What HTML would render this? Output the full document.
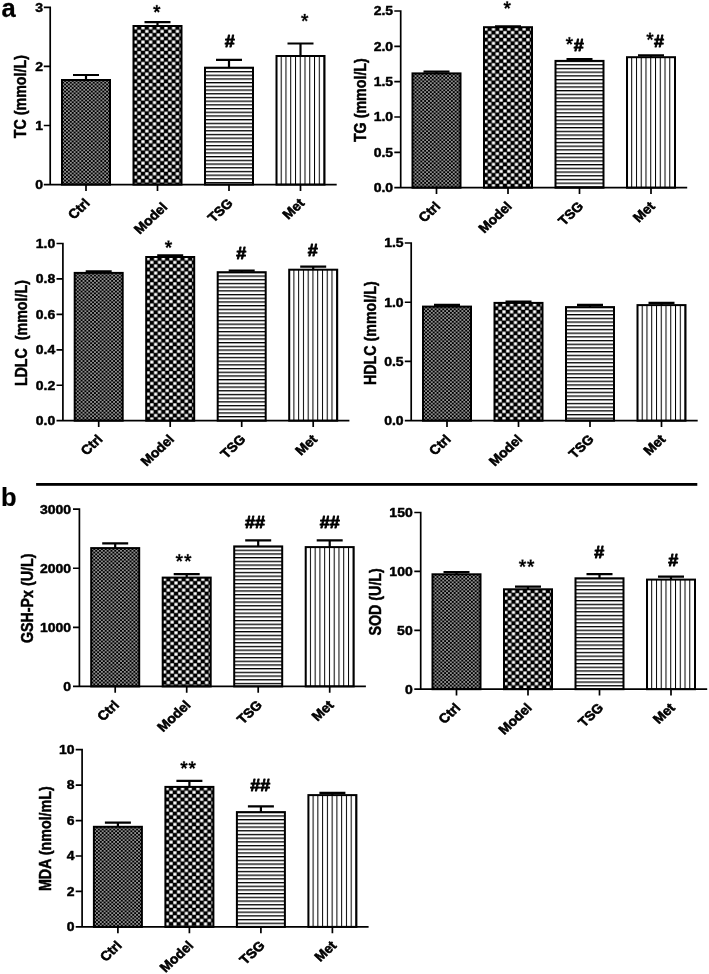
<!DOCTYPE html>
<html><head><meta charset="utf-8"><title>Figure</title>
<style>
html,body{margin:0;padding:0;background:#fff;}
svg{display:block;will-change:transform;filter:grayscale(1);}
text{font-family:"Liberation Sans", sans-serif;font-weight:bold;font-size:14.0px;fill:#000;stroke:#000;stroke-width:0.5px;stroke-linejoin:round;}
</style></head>
<body>
<svg width="709" height="974" viewBox="0 0 709 974">
<rect width="709" height="974" fill="#fff"/>
<defs>
<pattern id="p1" patternUnits="userSpaceOnUse" x="62.2" y="81.8" width="3.82" height="3.56"><rect width="3.82" height="3.56" fill="#000"/><rect x="2.15" y="0.22" width="1.43" height="1.33" fill="#fff"/><rect x="0.24" y="2" width="1.43" height="1.33" fill="#fff"/></pattern>
<pattern id="p2" patternUnits="userSpaceOnUse" x="133.4" y="29.6" width="7.66" height="7.12"><rect width="7.66" height="7.12" fill="#000"/><rect x="4.14" y="0.28" width="3.22" height="2.99" fill="#fff"/><rect x="0.31" y="3.84" width="3.22" height="2.99" fill="#fff"/></pattern>
<pattern id="p3" patternUnits="userSpaceOnUse" x="0" y="70.95" width="10" height="3.7"><rect width="10" height="3.7" fill="#fff"/><rect x="0" y="0" width="10" height="1.3" fill="#000"/></pattern>
<pattern id="p4" patternUnits="userSpaceOnUse" x="280.7" y="0" width="4.76" height="10"><rect width="4.76" height="10" fill="#fff"/><rect x="0" y="0" width="1.0" height="10" fill="#000"/></pattern>
<pattern id="p5" patternUnits="userSpaceOnUse" x="412.7" y="75.2" width="3.82" height="3.56"><rect width="3.82" height="3.56" fill="#000"/><rect x="2.15" y="0.22" width="1.43" height="1.33" fill="#fff"/><rect x="0.24" y="2" width="1.43" height="1.33" fill="#fff"/></pattern>
<pattern id="p6" patternUnits="userSpaceOnUse" x="483.9" y="30.8" width="7.66" height="7.12"><rect width="7.66" height="7.12" fill="#000"/><rect x="4.14" y="0.28" width="3.22" height="2.99" fill="#fff"/><rect x="0.31" y="3.84" width="3.22" height="2.99" fill="#fff"/></pattern>
<pattern id="p7" patternUnits="userSpaceOnUse" x="0" y="64.15" width="10" height="3.7"><rect width="10" height="3.7" fill="#fff"/><rect x="0" y="0" width="10" height="1.3" fill="#000"/></pattern>
<pattern id="p8" patternUnits="userSpaceOnUse" x="631.2" y="0" width="4.76" height="10"><rect width="4.76" height="10" fill="#fff"/><rect x="0" y="0" width="1.0" height="10" fill="#000"/></pattern>
<pattern id="p9" patternUnits="userSpaceOnUse" x="74.9" y="274.7" width="3.82" height="3.56"><rect width="3.82" height="3.56" fill="#000"/><rect x="2.15" y="0.22" width="1.43" height="1.33" fill="#fff"/><rect x="0.24" y="2" width="1.43" height="1.33" fill="#fff"/></pattern>
<pattern id="p10" patternUnits="userSpaceOnUse" x="146.1" y="260.6" width="7.66" height="7.12"><rect width="7.66" height="7.12" fill="#000"/><rect x="4.14" y="0.28" width="3.22" height="2.99" fill="#fff"/><rect x="0.31" y="3.84" width="3.22" height="2.99" fill="#fff"/></pattern>
<pattern id="p11" patternUnits="userSpaceOnUse" x="0" y="275.45" width="10" height="3.7"><rect width="10" height="3.7" fill="#fff"/><rect x="0" y="0" width="10" height="1.3" fill="#000"/></pattern>
<pattern id="p12" patternUnits="userSpaceOnUse" x="293.4" y="0" width="4.76" height="10"><rect width="4.76" height="10" fill="#fff"/><rect x="0" y="0" width="1.0" height="10" fill="#000"/></pattern>
<pattern id="p13" patternUnits="userSpaceOnUse" x="423.2" y="308.4" width="3.82" height="3.56"><rect width="3.82" height="3.56" fill="#000"/><rect x="2.15" y="0.22" width="1.43" height="1.33" fill="#fff"/><rect x="0.24" y="2" width="1.43" height="1.33" fill="#fff"/></pattern>
<pattern id="p14" patternUnits="userSpaceOnUse" x="494.4" y="306.5" width="7.66" height="7.12"><rect width="7.66" height="7.12" fill="#000"/><rect x="4.14" y="0.28" width="3.22" height="2.99" fill="#fff"/><rect x="0.31" y="3.84" width="3.22" height="2.99" fill="#fff"/></pattern>
<pattern id="p15" patternUnits="userSpaceOnUse" x="0" y="310.35" width="10" height="3.7"><rect width="10" height="3.7" fill="#fff"/><rect x="0" y="0" width="10" height="1.3" fill="#000"/></pattern>
<pattern id="p16" patternUnits="userSpaceOnUse" x="641.7" y="0" width="4.76" height="10"><rect width="4.76" height="10" fill="#fff"/><rect x="0" y="0" width="1.0" height="10" fill="#000"/></pattern>
<pattern id="p17" patternUnits="userSpaceOnUse" x="91.4" y="549.9" width="3.82" height="3.56"><rect width="3.82" height="3.56" fill="#000"/><rect x="2.15" y="0.22" width="1.43" height="1.33" fill="#fff"/><rect x="0.24" y="2" width="1.43" height="1.33" fill="#fff"/></pattern>
<pattern id="p18" patternUnits="userSpaceOnUse" x="162.6" y="581.2" width="7.66" height="7.12"><rect width="7.66" height="7.12" fill="#000"/><rect x="4.14" y="0.28" width="3.22" height="2.99" fill="#fff"/><rect x="0.31" y="3.84" width="3.22" height="2.99" fill="#fff"/></pattern>
<pattern id="p19" patternUnits="userSpaceOnUse" x="0" y="549.65" width="10" height="3.7"><rect width="10" height="3.7" fill="#fff"/><rect x="0" y="0" width="10" height="1.3" fill="#000"/></pattern>
<pattern id="p20" patternUnits="userSpaceOnUse" x="309.9" y="0" width="4.76" height="10"><rect width="4.76" height="10" fill="#fff"/><rect x="0" y="0" width="1.0" height="10" fill="#000"/></pattern>
<pattern id="p21" patternUnits="userSpaceOnUse" x="432.7" y="576.1" width="3.82" height="3.56"><rect width="3.82" height="3.56" fill="#000"/><rect x="2.15" y="0.22" width="1.43" height="1.33" fill="#fff"/><rect x="0.24" y="2" width="1.43" height="1.33" fill="#fff"/></pattern>
<pattern id="p22" patternUnits="userSpaceOnUse" x="503.9" y="592.9" width="7.66" height="7.12"><rect width="7.66" height="7.12" fill="#000"/><rect x="4.14" y="0.28" width="3.22" height="2.99" fill="#fff"/><rect x="0.31" y="3.84" width="3.22" height="2.99" fill="#fff"/></pattern>
<pattern id="p23" patternUnits="userSpaceOnUse" x="0" y="581.55" width="10" height="3.7"><rect width="10" height="3.7" fill="#fff"/><rect x="0" y="0" width="10" height="1.3" fill="#000"/></pattern>
<pattern id="p24" patternUnits="userSpaceOnUse" x="651.2" y="0" width="4.76" height="10"><rect width="4.76" height="10" fill="#fff"/><rect x="0" y="0" width="1.0" height="10" fill="#000"/></pattern>
<pattern id="p25" patternUnits="userSpaceOnUse" x="94.1" y="828.6" width="3.82" height="3.56"><rect width="3.82" height="3.56" fill="#000"/><rect x="2.15" y="0.22" width="1.43" height="1.33" fill="#fff"/><rect x="0.24" y="2" width="1.43" height="1.33" fill="#fff"/></pattern>
<pattern id="p26" patternUnits="userSpaceOnUse" x="165.3" y="790.5" width="7.66" height="7.12"><rect width="7.66" height="7.12" fill="#000"/><rect x="4.14" y="0.28" width="3.22" height="2.99" fill="#fff"/><rect x="0.31" y="3.84" width="3.22" height="2.99" fill="#fff"/></pattern>
<pattern id="p27" patternUnits="userSpaceOnUse" x="0" y="815.35" width="10" height="3.7"><rect width="10" height="3.7" fill="#fff"/><rect x="0" y="0" width="10" height="1.3" fill="#000"/></pattern>
<pattern id="p28" patternUnits="userSpaceOnUse" x="312.6" y="0" width="4.76" height="10"><rect width="4.76" height="10" fill="#fff"/><rect x="0" y="0" width="1.0" height="10" fill="#000"/></pattern>
</defs>
<path d="M73 75H99M86 75V80" stroke="#000" stroke-width="2.2" fill="none"/>
<path d="M144.5 22.1H170.5M157.5 22.1V26" stroke="#000" stroke-width="2.2" fill="none"/>
<path d="M216 59.8H242M229 59.8V67.7" stroke="#000" stroke-width="2.2" fill="none"/>
<path d="M287.5 43.5H313.5M300.5 43.5V56" stroke="#000" stroke-width="2.2" fill="none"/>
<rect x="62" y="80" width="48" height="104.6" fill="url(#p1)" stroke="#000" stroke-width="2.0"/>
<rect x="133.5" y="26" width="48" height="158.6" fill="url(#p2)" stroke="#000" stroke-width="2.0"/>
<rect x="205" y="67.7" width="48" height="116.9" fill="url(#p3)" stroke="#000" stroke-width="2.0"/>
<rect x="276.5" y="56" width="48" height="128.6" fill="url(#p4)" stroke="#000" stroke-width="2.0"/>
<path d="M50.2 6.45V184.6M43.8 184.6H336.7M43.8 125.5H50.2M43.8 66.4H50.2M43.8 7.3H50.2M86 184.6V191M157.5 184.6V191M229 184.6V191M300.5 184.6V191" stroke="#000" stroke-width="1.7" fill="none"/>
<text transform="translate(43.1 188.9) scale(1 0.935)" text-anchor="end">0</text>
<text transform="translate(43.1 129.8) scale(1 0.935)" text-anchor="end">1</text>
<text transform="translate(43.1 70.7) scale(1 0.935)" text-anchor="end">2</text>
<text transform="translate(43.1 11.6) scale(1 0.935)" text-anchor="end">3</text>
<text transform="translate(90.8 204) scale(1 0.935) rotate(-45)" text-anchor="end" style="font-size:14.0px;stroke-width:0.6px">Ctrl</text>
<text transform="translate(168.3 208) scale(1 0.935) rotate(-45)" text-anchor="end" style="font-size:14.0px;stroke-width:0.6px">Model</text>
<text transform="translate(233.8 204) scale(1 0.935) rotate(-45)" text-anchor="end" style="font-size:14.0px;stroke-width:0.6px">TSG</text>
<text transform="translate(305.3 204) scale(1 0.935) rotate(-45)" text-anchor="end" style="font-size:14.0px;stroke-width:0.6px">Met</text>
<text transform="translate(26 96.65) rotate(-90) scale(0.88 1)" text-anchor="middle" style="font-size:16.2px">TC (mmol/L)</text>
<path d="M156.3 8.85L155.9 5.13L157.7 5.13L157.3 8.85ZM156.65 8.34L159.8 6.78L160.36 8.63L156.95 9.37ZM157.2 8.54L159.56 11.3L158.1 12.44L156.4 9.17ZM157.2 9.17L155.5 12.44L154.04 11.3L156.4 8.54ZM156.65 9.37L153.24 8.63L153.8 6.78L156.95 8.34Z" fill="#000" stroke="#000" stroke-width="0.3" stroke-linejoin="round"/><circle cx="156.8" cy="8.85" r="1.1" fill="#000"/>
<text transform="translate(229.7 46.51) scale(1 0.935)" text-anchor="middle" style="font-size:18.0px;stroke-width:0.9px">#</text>
<path d="M304.2 17.75L303.8 14.03L305.6 14.03L305.2 17.75ZM304.55 17.24L307.7 15.68L308.26 17.53L304.85 18.27ZM305.1 17.44L307.46 20.2L306 21.34L304.3 18.07ZM305.1 18.07L303.4 21.34L301.94 20.2L304.3 17.44ZM304.55 18.27L301.14 17.53L301.7 15.68L304.85 17.24Z" fill="#000" stroke="#000" stroke-width="0.3" stroke-linejoin="round"/><circle cx="304.7" cy="17.75" r="1.1" fill="#000"/>
<path d="M423.5 71.7H449.5M436.5 71.7V73.4" stroke="#000" stroke-width="2.2" fill="none"/>
<path d="M495 26.4H521M508 26.4V27.2" stroke="#000" stroke-width="2.2" fill="none"/>
<path d="M566.5 59.1H592.5M579.5 59.1V60.9" stroke="#000" stroke-width="2.2" fill="none"/>
<path d="M638 55.3H664M651 55.3V57.2" stroke="#000" stroke-width="2.2" fill="none"/>
<rect x="412.5" y="73.4" width="48" height="114.3" fill="url(#p5)" stroke="#000" stroke-width="2.0"/>
<rect x="484" y="27.2" width="48" height="160.5" fill="url(#p6)" stroke="#000" stroke-width="2.0"/>
<rect x="555.5" y="60.9" width="48" height="126.8" fill="url(#p7)" stroke="#000" stroke-width="2.0"/>
<rect x="627" y="57.2" width="48" height="130.5" fill="url(#p8)" stroke="#000" stroke-width="2.0"/>
<path d="M400.7 10.15V187.7M394.3 187.7H687.2M394.3 152.36H400.7M394.3 117.02H400.7M394.3 81.68H400.7M394.3 46.34H400.7M394.3 11H400.7M436.5 187.7V194.1M508 187.7V194.1M579.5 187.7V194.1M651 187.7V194.1" stroke="#000" stroke-width="1.7" fill="none"/>
<text transform="translate(393.1 192) scale(1 0.935)" text-anchor="end">0.0</text>
<text transform="translate(393.1 156.66) scale(1 0.935)" text-anchor="end">0.5</text>
<text transform="translate(393.1 121.32) scale(1 0.935)" text-anchor="end">1.0</text>
<text transform="translate(393.1 85.98) scale(1 0.935)" text-anchor="end">1.5</text>
<text transform="translate(393.1 50.64) scale(1 0.935)" text-anchor="end">2.0</text>
<text transform="translate(393.1 15.3) scale(1 0.935)" text-anchor="end">2.5</text>
<text transform="translate(441.3 207.1) scale(1 0.935) rotate(-45)" text-anchor="end" style="font-size:14.0px;stroke-width:0.6px">Ctrl</text>
<text transform="translate(512.8 207.1) scale(1 0.935) rotate(-45)" text-anchor="end" style="font-size:14.0px;stroke-width:0.6px">Model</text>
<text transform="translate(584.3 207.1) scale(1 0.935) rotate(-45)" text-anchor="end" style="font-size:14.0px;stroke-width:0.6px">TSG</text>
<text transform="translate(655.8 207.1) scale(1 0.935) rotate(-45)" text-anchor="end" style="font-size:14.0px;stroke-width:0.6px">Met</text>
<text transform="translate(365.7 100.15) rotate(-90) scale(0.88 1)" text-anchor="middle" style="font-size:16.2px">TG (mmol/L)</text>
<path d="M506.7 5.15L506.3 1.43L508.1 1.43L507.7 5.15ZM507.05 4.64L510.2 3.08L510.76 4.93L507.35 5.67ZM507.6 4.84L509.96 7.6L508.5 8.74L506.8 5.47ZM507.6 5.47L505.9 8.74L504.44 7.6L506.8 4.84ZM507.05 5.67L503.64 4.93L504.2 3.08L507.35 4.64Z" fill="#000" stroke="#000" stroke-width="0.3" stroke-linejoin="round"/><circle cx="507.2" cy="5.15" r="1.1" fill="#000"/>
<path d="M568.9 40.95L568.5 37.23L570.3 37.23L569.9 40.95ZM569.25 40.44L572.4 38.88L572.96 40.73L569.55 41.47ZM569.8 40.64L572.16 43.4L570.7 44.54L569 41.27ZM569.8 41.27L568.1 44.54L566.64 43.4L569 40.64ZM569.25 41.47L565.84 40.73L566.4 38.88L569.55 40.44Z" fill="#000" stroke="#000" stroke-width="0.3" stroke-linejoin="round"/><circle cx="569.4" cy="40.95" r="1.1" fill="#000"/>
<text transform="translate(578.7 50.61) scale(1 0.935)" text-anchor="middle" style="font-size:18.0px;stroke-width:0.9px">#</text>
<path d="M649.5 36.45L649.1 32.73L650.9 32.73L650.5 36.45ZM649.85 35.94L653 34.38L653.56 36.23L650.15 36.97ZM650.4 36.14L652.76 38.9L651.3 40.04L649.6 36.77ZM650.4 36.77L648.7 40.04L647.24 38.9L649.6 36.14ZM649.85 36.97L646.44 36.23L647 34.38L650.15 35.94Z" fill="#000" stroke="#000" stroke-width="0.3" stroke-linejoin="round"/><circle cx="650" cy="36.45" r="1.1" fill="#000"/>
<text transform="translate(658.9 46.81) scale(1 0.935)" text-anchor="middle" style="font-size:18.0px;stroke-width:0.9px">#</text>
<path d="M85.7 271.4H111.7M98.7 271.4V272.9" stroke="#000" stroke-width="2.2" fill="none"/>
<path d="M157.2 255.3H183.2M170.2 255.3V257" stroke="#000" stroke-width="2.2" fill="none"/>
<path d="M228.7 270.6H254.7M241.7 270.6V272.2" stroke="#000" stroke-width="2.2" fill="none"/>
<path d="M300.2 266.7H326.2M313.2 266.7V269.7" stroke="#000" stroke-width="2.2" fill="none"/>
<rect x="74.7" y="272.9" width="48" height="147.8" fill="url(#p9)" stroke="#000" stroke-width="2.0"/>
<rect x="146.2" y="257" width="48" height="163.7" fill="url(#p10)" stroke="#000" stroke-width="2.0"/>
<rect x="217.7" y="272.2" width="48" height="148.5" fill="url(#p11)" stroke="#000" stroke-width="2.0"/>
<rect x="289.2" y="269.7" width="48" height="151" fill="url(#p12)" stroke="#000" stroke-width="2.0"/>
<path d="M62.9 242.65V420.7M56.5 420.7H349.4M56.5 385.26H62.9M56.5 349.82H62.9M56.5 314.38H62.9M56.5 278.94H62.9M56.5 243.5H62.9M98.7 420.7V427.1M170.2 420.7V427.1M241.7 420.7V427.1M313.2 420.7V427.1" stroke="#000" stroke-width="1.7" fill="none"/>
<text transform="translate(55.3 425) scale(1 0.935)" text-anchor="end">0.0</text>
<text transform="translate(55.3 389.56) scale(1 0.935)" text-anchor="end">0.2</text>
<text transform="translate(55.3 354.12) scale(1 0.935)" text-anchor="end">0.4</text>
<text transform="translate(55.3 318.68) scale(1 0.935)" text-anchor="end">0.6</text>
<text transform="translate(55.3 283.24) scale(1 0.935)" text-anchor="end">0.8</text>
<text transform="translate(55.3 247.8) scale(1 0.935)" text-anchor="end">1.0</text>
<text transform="translate(103.5 440.1) scale(1 0.935) rotate(-45)" text-anchor="end" style="font-size:14.0px;stroke-width:0.6px">Ctrl</text>
<text transform="translate(175 440.1) scale(1 0.935) rotate(-45)" text-anchor="end" style="font-size:14.0px;stroke-width:0.6px">Model</text>
<text transform="translate(246.5 440.1) scale(1 0.935) rotate(-45)" text-anchor="end" style="font-size:14.0px;stroke-width:0.6px">TSG</text>
<text transform="translate(318 440.1) scale(1 0.935) rotate(-45)" text-anchor="end" style="font-size:14.0px;stroke-width:0.6px">Met</text>
<text transform="translate(27.4 333.1) rotate(-90) scale(0.88 1)" text-anchor="middle" style="font-size:16.2px">LDLC  (mmol/L)</text>
<path d="M168 244.35L167.6 240.63L169.4 240.63L169 244.35ZM168.35 243.84L171.5 242.28L172.06 244.13L168.65 244.87ZM168.9 244.04L171.26 246.8L169.8 247.94L168.1 244.67ZM168.9 244.67L167.2 247.94L165.74 246.8L168.1 244.04ZM168.35 244.87L164.94 244.13L165.5 242.28L168.65 243.84Z" fill="#000" stroke="#000" stroke-width="0.3" stroke-linejoin="round"/><circle cx="168.5" cy="244.35" r="1.1" fill="#000"/>
<text transform="translate(241.2 259.01) scale(1 0.935)" text-anchor="middle" style="font-size:18.0px;stroke-width:0.9px">#</text>
<text transform="translate(312.8 255.51) scale(1 0.935)" text-anchor="middle" style="font-size:18.0px;stroke-width:0.9px">#</text>
<path d="M434 304.9H460M447 304.9V306.6" stroke="#000" stroke-width="2.2" fill="none"/>
<path d="M505.5 301.5H531.5M518.5 301.5V302.9" stroke="#000" stroke-width="2.2" fill="none"/>
<path d="M577 304.9H603M590 304.9V307.1" stroke="#000" stroke-width="2.2" fill="none"/>
<path d="M648.5 302.9H674.5M661.5 302.9V305.1" stroke="#000" stroke-width="2.2" fill="none"/>
<rect x="423" y="306.6" width="48" height="114.1" fill="url(#p13)" stroke="#000" stroke-width="2.0"/>
<rect x="494.5" y="302.9" width="48" height="117.8" fill="url(#p14)" stroke="#000" stroke-width="2.0"/>
<rect x="566" y="307.1" width="48" height="113.6" fill="url(#p15)" stroke="#000" stroke-width="2.0"/>
<rect x="637.5" y="305.1" width="48" height="115.6" fill="url(#p16)" stroke="#000" stroke-width="2.0"/>
<path d="M411.2 242.15V420.7M404.8 420.7H697.7M404.8 361.47H411.2M404.8 302.23H411.2M404.8 243H411.2M447 420.7V427.1M518.5 420.7V427.1M590 420.7V427.1M661.5 420.7V427.1" stroke="#000" stroke-width="1.7" fill="none"/>
<text transform="translate(403.6 425) scale(1 0.935)" text-anchor="end">0.0</text>
<text transform="translate(403.6 365.77) scale(1 0.935)" text-anchor="end">0.5</text>
<text transform="translate(403.6 306.53) scale(1 0.935)" text-anchor="end">1.0</text>
<text transform="translate(403.6 247.3) scale(1 0.935)" text-anchor="end">1.5</text>
<text transform="translate(451.8 440.1) scale(1 0.935) rotate(-45)" text-anchor="end" style="font-size:14.0px;stroke-width:0.6px">Ctrl</text>
<text transform="translate(523.3 440.1) scale(1 0.935) rotate(-45)" text-anchor="end" style="font-size:14.0px;stroke-width:0.6px">Model</text>
<text transform="translate(594.8 440.1) scale(1 0.935) rotate(-45)" text-anchor="end" style="font-size:14.0px;stroke-width:0.6px">TSG</text>
<text transform="translate(666.3 440.1) scale(1 0.935) rotate(-45)" text-anchor="end" style="font-size:14.0px;stroke-width:0.6px">Met</text>
<text transform="translate(376.4 333.15) rotate(-90) scale(0.88 1)" text-anchor="middle" style="font-size:16.2px">HDLC (mmol/L)</text>
<path d="M102.2 543.4H128.2M115.2 543.4V548.1" stroke="#000" stroke-width="2.2" fill="none"/>
<path d="M173.7 574.1H199.7M186.7 574.1V577.6" stroke="#000" stroke-width="2.2" fill="none"/>
<path d="M245.2 540.4H271.2M258.2 540.4V546.4" stroke="#000" stroke-width="2.2" fill="none"/>
<path d="M316.7 540.4H342.7M329.7 540.4V547.1" stroke="#000" stroke-width="2.2" fill="none"/>
<rect x="91.2" y="548.1" width="48" height="138.3" fill="url(#p17)" stroke="#000" stroke-width="2.0"/>
<rect x="162.7" y="577.6" width="48" height="108.8" fill="url(#p18)" stroke="#000" stroke-width="2.0"/>
<rect x="234.2" y="546.4" width="48" height="140" fill="url(#p19)" stroke="#000" stroke-width="2.0"/>
<rect x="305.7" y="547.1" width="48" height="139.3" fill="url(#p20)" stroke="#000" stroke-width="2.0"/>
<path d="M79.4 508.35V686.4M73 686.4H365.9M73 627.33H79.4M73 568.27H79.4M73 509.2H79.4M115.2 686.4V692.8M186.7 686.4V692.8M258.2 686.4V692.8M329.7 686.4V692.8" stroke="#000" stroke-width="1.7" fill="none"/>
<text transform="translate(71.1 690.7) scale(1 0.935)" text-anchor="end">0</text>
<text transform="translate(71.1 631.63) scale(1 0.935)" text-anchor="end">1000</text>
<text transform="translate(71.1 572.57) scale(1 0.935)" text-anchor="end">2000</text>
<text transform="translate(71.1 513.5) scale(1 0.935)" text-anchor="end">3000</text>
<text transform="translate(120 705.8) scale(1 0.935) rotate(-45)" text-anchor="end" style="font-size:14.0px;stroke-width:0.6px">Ctrl</text>
<text transform="translate(191.5 705.8) scale(1 0.935) rotate(-45)" text-anchor="end" style="font-size:14.0px;stroke-width:0.6px">Model</text>
<text transform="translate(263 705.8) scale(1 0.935) rotate(-45)" text-anchor="end" style="font-size:14.0px;stroke-width:0.6px">TSG</text>
<text transform="translate(334.5 705.8) scale(1 0.935) rotate(-45)" text-anchor="end" style="font-size:14.0px;stroke-width:0.6px">Met</text>
<text transform="translate(32.7 598.3) rotate(-90) scale(0.88 1)" text-anchor="middle" style="font-size:16.2px">GSH-Px (U/L)</text>
<path d="M178.8 558L178.4 554.28L180.2 554.28L179.8 558ZM179.15 557.49L182.3 555.93L182.86 557.78L179.45 558.52ZM179.7 557.69L182.06 560.45L180.6 561.59L178.9 558.32ZM179.7 558.32L178 561.59L176.54 560.45L178.9 557.69ZM179.15 558.52L175.74 557.78L176.3 555.93L179.45 557.49Z" fill="#000" stroke="#000" stroke-width="0.3" stroke-linejoin="round"/><circle cx="179.3" cy="558" r="1.1" fill="#000"/>
<path d="M187.3 558L186.9 554.28L188.7 554.28L188.3 558ZM187.65 557.49L190.8 555.93L191.36 557.78L187.95 558.52ZM188.2 557.69L190.56 560.45L189.1 561.59L187.4 558.32ZM188.2 558.32L186.5 561.59L185.04 560.45L187.4 557.69ZM187.65 558.52L184.24 557.78L184.8 555.93L187.95 557.49Z" fill="#000" stroke="#000" stroke-width="0.3" stroke-linejoin="round"/><circle cx="187.8" cy="558" r="1.1" fill="#000"/>
<text transform="translate(254.9 528.41) scale(1 0.935)" text-anchor="middle" style="font-size:18.0px;stroke-width:0.9px">##</text>
<text transform="translate(329.8 528.41) scale(1 0.935)" text-anchor="middle" style="font-size:18.0px;stroke-width:0.9px">##</text>
<path d="M443.5 572.1H469.5M456.5 572.1V574.3" stroke="#000" stroke-width="2.2" fill="none"/>
<path d="M515 586.6H541M528 586.6V589.3" stroke="#000" stroke-width="2.2" fill="none"/>
<path d="M586.5 574.1H612.5M599.5 574.1V578.3" stroke="#000" stroke-width="2.2" fill="none"/>
<path d="M658 576.6H684M671 576.6V579.6" stroke="#000" stroke-width="2.2" fill="none"/>
<rect x="432.5" y="574.3" width="48" height="114.9" fill="url(#p21)" stroke="#000" stroke-width="2.0"/>
<rect x="504" y="589.3" width="48" height="99.9" fill="url(#p22)" stroke="#000" stroke-width="2.0"/>
<rect x="575.5" y="578.3" width="48" height="110.9" fill="url(#p23)" stroke="#000" stroke-width="2.0"/>
<rect x="647" y="579.6" width="48" height="109.6" fill="url(#p24)" stroke="#000" stroke-width="2.0"/>
<path d="M420.7 511.65V689.2M414.3 689.2H707.2M414.3 630.3H420.7M414.3 571.4H420.7M414.3 512.5H420.7M456.5 689.2V695.6M528 689.2V695.6M599.5 689.2V695.6M671 689.2V695.6" stroke="#000" stroke-width="1.7" fill="none"/>
<text transform="translate(412.7 693.5) scale(1 0.935)" text-anchor="end">0</text>
<text transform="translate(412.7 634.6) scale(1 0.935)" text-anchor="end">50</text>
<text transform="translate(412.7 575.7) scale(1 0.935)" text-anchor="end">100</text>
<text transform="translate(412.7 516.8) scale(1 0.935)" text-anchor="end">150</text>
<text transform="translate(461.3 708.6) scale(1 0.935) rotate(-45)" text-anchor="end" style="font-size:14.0px;stroke-width:0.6px">Ctrl</text>
<text transform="translate(532.8 708.6) scale(1 0.935) rotate(-45)" text-anchor="end" style="font-size:14.0px;stroke-width:0.6px">Model</text>
<text transform="translate(604.3 708.6) scale(1 0.935) rotate(-45)" text-anchor="end" style="font-size:14.0px;stroke-width:0.6px">TSG</text>
<text transform="translate(675.8 708.6) scale(1 0.935) rotate(-45)" text-anchor="end" style="font-size:14.0px;stroke-width:0.6px">Met</text>
<text transform="translate(381.3 601.85) rotate(-90) scale(0.88 1)" text-anchor="middle" style="font-size:16.2px">SOD (U/L)</text>
<path d="M522 563.45L521.6 559.73L523.4 559.73L523 563.45ZM522.35 562.94L525.5 561.38L526.06 563.23L522.65 563.97ZM522.9 563.14L525.26 565.9L523.8 567.04L522.1 563.77ZM522.9 563.77L521.2 567.04L519.74 565.9L522.1 563.14ZM522.35 563.97L518.94 563.23L519.5 561.38L522.65 562.94Z" fill="#000" stroke="#000" stroke-width="0.3" stroke-linejoin="round"/><circle cx="522.5" cy="563.45" r="1.1" fill="#000"/>
<path d="M530.2 563.45L529.8 559.73L531.6 559.73L531.2 563.45ZM530.55 562.94L533.7 561.38L534.26 563.23L530.85 563.97ZM531.1 563.14L533.46 565.9L532 567.04L530.3 563.77ZM531.1 563.77L529.4 567.04L527.94 565.9L530.3 563.14ZM530.55 563.97L527.14 563.23L527.7 561.38L530.85 562.94Z" fill="#000" stroke="#000" stroke-width="0.3" stroke-linejoin="round"/><circle cx="530.7" cy="563.45" r="1.1" fill="#000"/>
<text transform="translate(599.2 558.01) scale(1 0.935)" text-anchor="middle" style="font-size:18.0px;stroke-width:0.9px">#</text>
<text transform="translate(673.2 565.91) scale(1 0.935)" text-anchor="middle" style="font-size:18.0px;stroke-width:0.9px">#</text>
<path d="M104.9 822.6H130.9M117.9 822.6V826.8" stroke="#000" stroke-width="2.2" fill="none"/>
<path d="M176.4 780.9H202.4M189.4 780.9V786.9" stroke="#000" stroke-width="2.2" fill="none"/>
<path d="M247.9 806.3H273.9M260.9 806.3V812.1" stroke="#000" stroke-width="2.2" fill="none"/>
<path d="M319.4 792.9H345.4M332.4 792.9V795.1" stroke="#000" stroke-width="2.2" fill="none"/>
<rect x="93.9" y="826.8" width="48" height="100.1" fill="url(#p25)" stroke="#000" stroke-width="2.0"/>
<rect x="165.4" y="786.9" width="48" height="140" fill="url(#p26)" stroke="#000" stroke-width="2.0"/>
<rect x="236.9" y="812.1" width="48" height="114.8" fill="url(#p27)" stroke="#000" stroke-width="2.0"/>
<rect x="308.4" y="795.1" width="48" height="131.8" fill="url(#p28)" stroke="#000" stroke-width="2.0"/>
<path d="M82.1 748.85V926.9M75.7 926.9H368.6M75.7 891.46H82.1M75.7 856.02H82.1M75.7 820.58H82.1M75.7 785.14H82.1M75.7 749.7H82.1M117.9 926.9V933.3M189.4 926.9V933.3M260.9 926.9V933.3M332.4 926.9V933.3" stroke="#000" stroke-width="1.7" fill="none"/>
<text transform="translate(74.5 931.2) scale(1 0.935)" text-anchor="end">0</text>
<text transform="translate(74.5 895.76) scale(1 0.935)" text-anchor="end">2</text>
<text transform="translate(74.5 860.32) scale(1 0.935)" text-anchor="end">4</text>
<text transform="translate(74.5 824.88) scale(1 0.935)" text-anchor="end">6</text>
<text transform="translate(74.5 789.44) scale(1 0.935)" text-anchor="end">8</text>
<text transform="translate(74.5 754) scale(1 0.935)" text-anchor="end">10</text>
<text transform="translate(122.7 946.3) scale(1 0.935) rotate(-45)" text-anchor="end" style="font-size:14.0px;stroke-width:0.6px">Ctrl</text>
<text transform="translate(194.2 946.3) scale(1 0.935) rotate(-45)" text-anchor="end" style="font-size:14.0px;stroke-width:0.6px">Model</text>
<text transform="translate(265.7 946.3) scale(1 0.935) rotate(-45)" text-anchor="end" style="font-size:14.0px;stroke-width:0.6px">TSG</text>
<text transform="translate(337.2 946.3) scale(1 0.935) rotate(-45)" text-anchor="end" style="font-size:14.0px;stroke-width:0.6px">Met</text>
<text transform="translate(50.8 838.7) rotate(-90) scale(0.88 1)" text-anchor="middle" style="font-size:16.2px">MDA (nmol/mL)</text>
<path d="M183.5 765.15L183.1 761.43L184.9 761.43L184.5 765.15ZM183.85 764.64L187 763.08L187.56 764.93L184.15 765.67ZM184.4 764.84L186.76 767.6L185.3 768.74L183.6 765.47ZM184.4 765.47L182.7 768.74L181.24 767.6L183.6 764.84ZM183.85 765.67L180.44 764.93L181 763.08L184.15 764.64Z" fill="#000" stroke="#000" stroke-width="0.3" stroke-linejoin="round"/><circle cx="184" cy="765.15" r="1.1" fill="#000"/>
<path d="M191.7 765.15L191.3 761.43L193.1 761.43L192.7 765.15ZM192.05 764.64L195.2 763.08L195.76 764.93L192.35 765.67ZM192.6 764.84L194.96 767.6L193.5 768.74L191.8 765.47ZM192.6 765.47L190.9 768.74L189.44 767.6L191.8 764.84ZM192.05 765.67L188.64 764.93L189.2 763.08L192.35 764.64Z" fill="#000" stroke="#000" stroke-width="0.3" stroke-linejoin="round"/><circle cx="192.2" cy="765.15" r="1.1" fill="#000"/>
<text transform="translate(260.2 791.21) scale(1 0.935)" text-anchor="middle" style="font-size:18.0px;stroke-width:0.9px">##</text>
<rect x="36.1" y="483" width="661.2" height="2.8" fill="#000"/>
<text x="1.4" y="17.4" style="font-size:25.5px;stroke-width:0.3px">a</text>
<text x="1.0" y="506.2" style="font-size:25.5px;stroke-width:0.2px">b</text>
</svg>
</body></html>
